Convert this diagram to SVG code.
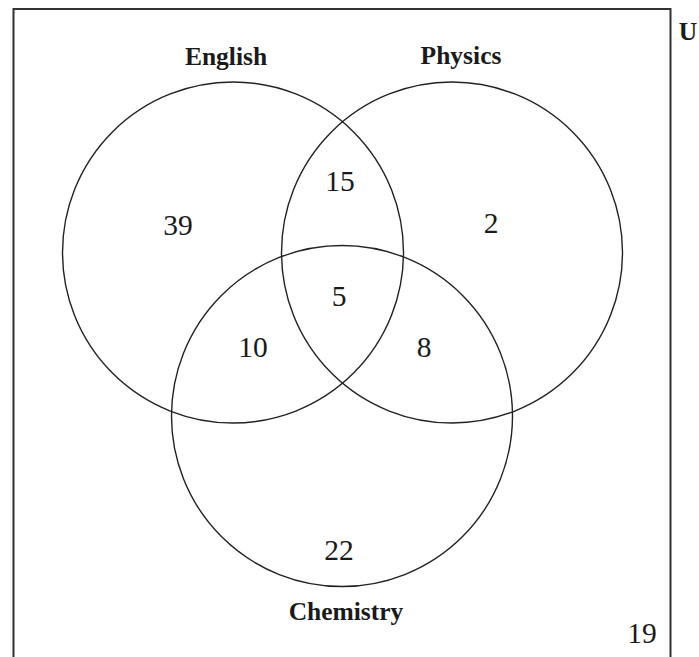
<svg xmlns="http://www.w3.org/2000/svg" width="699" height="657" viewBox="0 0 699 657">
<style>
.set{fill:none;stroke:#222;stroke-width:1.4}
.lbl{font-family:"Liberation Serif","Times New Roman",serif;font-weight:bold;font-size:25.5px;fill:#1a1a1a;text-anchor:middle}
.num{font-family:"Liberation Serif","Times New Roman",serif;font-size:29.5px;fill:#1a1a1a;text-anchor:middle}
</style>
<rect width="699" height="657" fill="#fff"/>
<g id="universe">
<rect x="13.5" y="9" width="657" height="700" fill="none" stroke="#333" stroke-width="2"/>
<text class="lbl" x="688" y="40">U</text>
<text class="num" x="642" y="643">19</text>
</g>
<g id="english">
<circle class="set" cx="233" cy="252.5" r="170.5"/>
<text class="lbl" x="226" y="65">English</text>
<text class="num" x="178" y="235">39</text>
</g>
<g id="physics">
<circle class="set" cx="452" cy="252.5" r="170.5"/>
<text class="lbl" x="461" y="64">Physics</text>
<text class="num" x="491" y="233">2</text>
</g>
<g id="chemistry">
<circle class="set" cx="342" cy="416" r="170.5"/>
<text class="lbl" x="346" y="620">Chemistry</text>
<text class="num" x="339" y="560">22</text>
</g>
<g id="intersections">
<text class="num" x="340" y="191">15</text>
<text class="num" x="339" y="306">5</text>
<text class="num" x="253" y="357">10</text>
<text class="num" x="424" y="357">8</text>
</g>
</svg>
